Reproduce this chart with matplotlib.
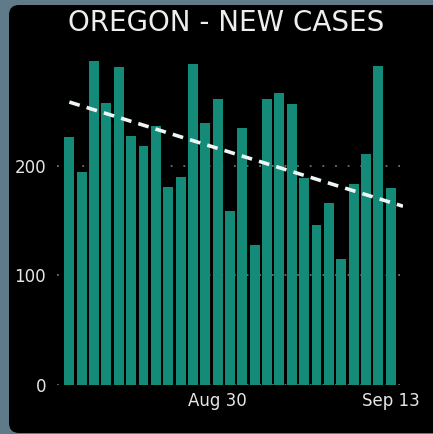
import datetime as dt

import matplotlib
matplotlib.use("Agg")
import matplotlib.pyplot as plt
import matplotlib.dates as mdates
from matplotlib.patches import FancyBboxPatch

# daily new cases, Aug 18 - Sep 13
start_date = dt.date(2020, 8, 18)
new_cases = [226, 194, 295, 257, 290, 227, 218, 236, 181, 190, 293, 239, 261, 159,
             234, 128, 261, 266, 256, 189, 146, 166, 115, 183, 211, 291, 180]
# trend line end values (first day, day after last)
trend_values = [258, 163]
tick_dates = [dt.date(2020, 8, 30), dt.date(2020, 9, 13)]
y_ticks = [0, 100, 200]

dates = [start_date + dt.timedelta(days=i) for i in range(len(new_cases))]
trend_dates = [dates[0], dates[-1] + dt.timedelta(days=1)]

W, H = 433, 434
fig = plt.figure(figsize=(W / 100, H / 100), dpi=100)
fig.patch.set_facecolor("#5f7b8a")

# black card behind the chart, drawn in pixel units
bg = fig.add_axes([0, 0, 1, 1], zorder=-1)
bg.set_xlim(0, W)
bg.set_ylim(H, 0)
bg.axis("off")
bg.add_patch(FancyBboxPatch((9, 5), W + 20, H - 6, boxstyle="round,pad=0,rounding_size=10",
                            facecolor="black", edgecolor="none"))

ax = fig.add_axes([57 / W, 49 / H, 346 / W, 329 / H])
ax.set_facecolor("black")

bar_x = mdates.date2num(dates)
ax.bar(bar_x, new_cases, width=0.8, color="#148a78", zorder=2)
ax.plot(mdates.date2num(trend_dates), trend_values, color="#eef6f4", linewidth=2.6,
        linestyle=(0, (3, 2)), zorder=3)

ax.set_xlim(bar_x[0] - 1, bar_x[-1] + 1)
ax.set_ylim(0, 300)
ax.set_yticks(y_ticks)
ax.set_xticks(mdates.date2num(tick_dates))
ax.xaxis.set_major_formatter(mdates.DateFormatter("%b %d"))

for y in y_ticks:
    ax.axhline(y, color="#707070", linewidth=1.3, linestyle=(0, (1, 6)), zorder=1)

for s in ax.spines.values():
    s.set_visible(False)
ax.tick_params(length=0, colors="#e6e6e6", labelsize=12)
ax.tick_params(axis="y", pad=8)
ax.tick_params(axis="x", pad=5)

fig.text(226 / W, 1 - 23 / H, "OREGON - NEW CASES", color="#eeeeee", fontsize=20,
         ha="center", va="center")

fig.savefig("out.png", dpi=100, facecolor=fig.get_facecolor())
